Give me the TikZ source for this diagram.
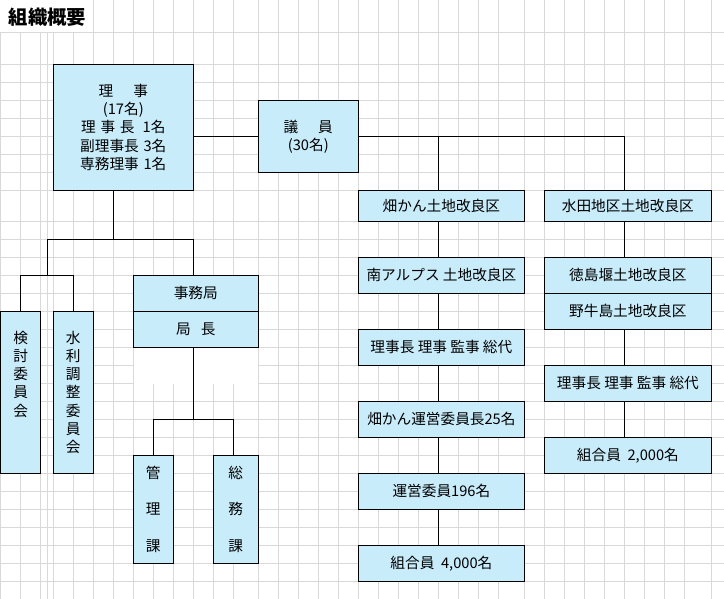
\documentclass[tikz,border=0pt]{standalone}
\usepackage{fontspec}
\setmainfont{Noto Sans CJK JP}
\newlength{\unitpx}
\setlength{\unitpx}{0.75pt}
\definecolor{boxblue}{RGB}{200,236,250}
\definecolor{gridgray}{RGB}{217,217,217}
\def\gap{\hspace{0.32em}}
\tikzset{
  box/.style={draw=black, fill=boxblue, line width=0.9pt, inner sep=0pt, align=center, font=\fontsize{11}{13.7}\selectfont},
  sz/.style 2 args={minimum width=#1\unitpx, minimum height=#2\unitpx},
  link/.style={draw=black, line width=0.8pt},
  gridline/.style={draw=gridgray, line width=0.75pt}
}

\begin{document}
\begin{tikzpicture}[x=0.75pt, y=-0.75pt]
		%%%%% GRID %%%%%
		
		\fill[white] (0,0) rectangle (724,599);
		\useasboundingbox (0,0) rectangle (724,599);
		
		\foreach \gx in {0.5,20.7,40.7,47.3,53.3,73.3}
			\draw[gridline] (\gx,32.3) -- (\gx,599);
		\foreach \gx in {93.3,113.3,133.3,153.3,173.3,193.3,213.3,233.3,258.3,278.3,298.3,318.3,338.3,358.3,378.3,398.3,418.3,438.3,458.3,478.3,498.3,524.5,544.5,564.3,584.3,604.3,624.3,644.3,664.3,684.5,711.3}
			\draw[gridline] (\gx,0) -- (\gx,599);
		\foreach \gy in {32.3,64.3,82.7,100.7,118.3,136.7,154.7,172.7,190.7,221.3,239.3,257.3,275.3,293.3,311.3,329.3,347.3,365.3,383.3,401.3,419.3,437.3,455.3,473.3,491.3,509.3,527.3,545.3,563.3,581.3}
			\draw[gridline] (0,\gy) -- (724,\gy);
		\fill[white] (133.8,347.8) rectangle (258,384);
		
		%%%%% START %%%%%
		
		\node[anchor=west, font=\fontsize{14.5}{16}\selectfont\bfseries] (title) at (4,17) {組織概要};
		
		\node[box, sz={140}{126}] (riji) at (123.3,127.3) {理\hspace{1.38em}事\\(17名)\\理\gap 事\gap 長\hspace{0.55em}1名\\副理事長\gap 3名\\専務理事\gap 1名};
		\node[box, sz={100}{72.4}] (giin) at (308.3,136.5) {議\hspace{1.35em}員\\(30名)};
		
		% hatakan column
		\node[box, sz={166.2}{30.6}] (hatakan) at (441.4,206) {畑かん土地改良区};
		\node[box, sz={166.2}{36}] (minami) at (441.4,275.3) {南アルプス 土地改良区};
		\node[box, sz={166.2}{36}] (yakuinL) at (441.4,347.3) {理事長 理事 監事 総代};
		\node[box, sz={166.2}{36}] (unei25) at (441.4,419.3) {畑かん運営委員長25名};
		\node[box, sz={166.2}{36}] (unei196) at (441.4,491.3) {運営委員196名};
		\node[box, sz={166.2}{36}] (kumiai4000) at (441.4,563.3) {組合員\ \ 4,000名};
		
		% suiden column
		\node[box, sz={166.8}{30.6}] (suiden) at (627.9,206) {水田地区土地改良区};
		\node[box, sz={166.8}{36}] (tokushima) at (627.9,275.3) {徳島堰土地改良区};
		\node[box, sz={166.8}{36}] (yagoshima) at (627.9,311.3) {野牛島土地改良区};
		\node[box, sz={166.8}{36}] (yakuinR) at (627.9,383.3) {理事長 理事 監事 総代};
		\node[box, sz={166.8}{36}] (kumiai2000) at (627.9,455.3) {組合員\ \ 2,000名};
		
		% committees and office
		\node[box, sz={40.2}{162}] (kentou) at (20.6,392.3) {検\\討\\委\\員\\会\\\phantom{会}\\\phantom{会}};
		\node[box, sz={40}{162}] (suiri) at (73.3,392.3) {水\\利\\調\\整\\委\\員\\会};
		\node[box, sz={125}{36}] (jimukyoku) at (195.8,293.3) {事務局};
		\node[box, sz={125}{36}] (kyokuchou) at (195.8,329.3) {局\hspace{0.7em}長};
		\node[box, sz={40}{108}, font=\fontsize{11}{27.2}\selectfont] (kanri) at (153.3,509.3) {管\\理\\課};
		\node[box, sz={45}{108}, font=\fontsize{11}{27.2}\selectfont] (soumu) at (235.8,509.3) {総\\務\\課};
		
		\coordinate (rijiJ) at (113.3,239.3);
		\coordinate (iinJ) at (47.3,275.3);
		\coordinate (kaJ) at (193.3,419.3);
		
		\draw[link] (giin.west -| riji.east) -- (giin.west);
		\draw[link] (giin.east) -| ([xshift=-3.6\unitpx]suiden.north);
		\draw[link] ([xshift=-3\unitpx]hatakan.north) |- (giin.east);
		\foreach \a/\b in {hatakan/minami,minami/yakuinL,yakuinL/unei25,unei25/unei196,unei196/kumiai4000}
			\draw[link] ([xshift=-3\unitpx]\a.south) -- ([xshift=-3\unitpx]\b.north);
		\foreach \a/\b in {suiden/tokushima,yagoshima/yakuinR,yakuinR/kumiai2000}
			\draw[link] ([xshift=-3.6\unitpx]\a.south) -- ([xshift=-3.6\unitpx]\b.north);
		
		\draw[link] ([xshift=-10\unitpx]riji.south) -- (rijiJ);
		\draw[link] (iinJ) |- (rijiJ) -| ([xshift=-2.5\unitpx]jimukyoku.north);
		\draw[link] (kentou.north) |- (iinJ) -| (suiri.north);
		\draw[link] ([xshift=-2.5\unitpx]kyokuchou.south) -- (kaJ);
		\draw[link] (kanri.north) |- (kaJ) -| ([xshift=-2.5\unitpx]soumu.north);
		
		%%%%% END %%%%%
\end{tikzpicture}
\end{document}
